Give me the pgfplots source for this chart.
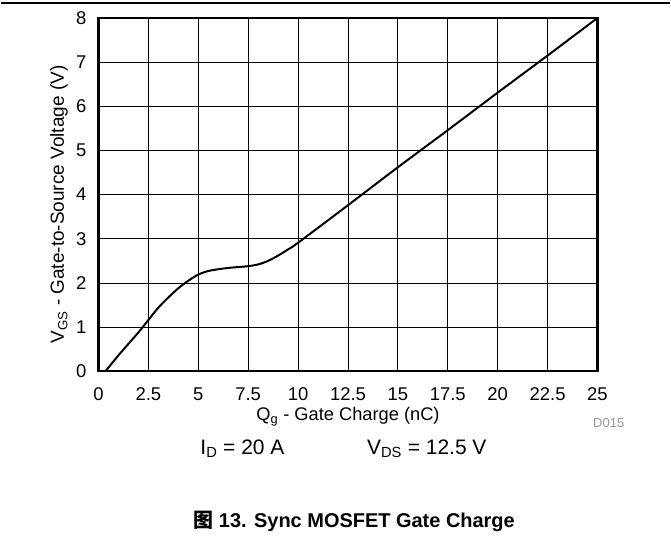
\documentclass[border=0pt]{standalone}
\usepackage{fontspec}
\setmainfont{Liberation Sans}
\newfontfamily\cjk{Noto Sans CJK SC}
\usepackage{pgfplots}
\pgfplotsset{compat=1.18}
\definecolor{dgray}{RGB}{150,150,150}
\begin{document}
\begin{tikzpicture}[x=1pt,y=1pt]
\path (0,0) rectangle (671,-540);
\draw[line width=1.3pt] (0,-3) -- (671,-3);
\begin{axis}[
  at={(98pt,-372pt)}, anchor=south west,
  scale only axis, width=500pt, height=354pt,
  xmin=0, xmax=25, ymin=0, ymax=8,
  xtick={0,2.5,5,7.5,10,12.5,15,17.5,20,22.5,25},
  xticklabels={0,2.5,5,7.5,10,12.5,15,17.5,20,22.5,25},
  ytick={0,1,...,8},
  major tick length=0pt,
  grid=major,
  grid style={black, line width=0.8pt},
  axis line style={line width=2.2pt},
  /pgf/number format/assume math mode=true,
  tick label style={font=\fontsize{18.5}{22}\selectfont, inner sep=0pt},
  xticklabel style={anchor=center, yshift=-23pt},
  yticklabel style={anchor=east, xshift=-12pt},
]
\addplot[black, line width=2pt, smooth, tension=0.5] coordinates {
(0.35,0) (1,0.36) (1.5,0.62) (2,0.88) (2.5,1.16) (3,1.44) (3.5,1.67) (4,1.88)
(4.5,2.05) (5,2.19) (5.5,2.27) (6,2.31) (6.5,2.34) (7,2.36) (7.5,2.38) (8,2.42)
(8.5,2.5) (9,2.62) (9.5,2.76) (10,2.91) (12.5,3.76) (15,4.62) (17.5,5.46)
(20,6.31) (22.5,7.15) (25,8)
};
\end{axis}
\node[rotate=90, inner sep=0pt, font=\fontsize{19}{22}\selectfont] at (58.5,-205) {V\textsubscript{GS} - Gate-to-Source Voltage (V)};
\node[anchor=base, inner sep=0pt, font=\fontsize{18.3}{22}\selectfont] at (348,-421.5) {Q\textsubscript{g} - Gate Charge (nC)};
\node[anchor=base east, inner sep=0pt, font=\fontsize{13}{15}\selectfont, text=dgray] at (625,-428.7) {D015};
\node[anchor=base west, inner sep=0pt, font=\fontsize{21}{25}\selectfont] at (200,-455.5) {I\textsubscript{D} = 20 A};
\node[anchor=base west, inner sep=0pt, font=\fontsize{21}{25}\selectfont] at (367,-455.5) {V\textsubscript{DS} = 12.5 V};
\node[anchor=base west, inner sep=0pt, font=\fontsize{20}{24}\selectfont\bfseries] at (193,-529) {{\cjk 图} 13. Sync MOSFET Gate Charge};
\end{tikzpicture}
\end{document}
